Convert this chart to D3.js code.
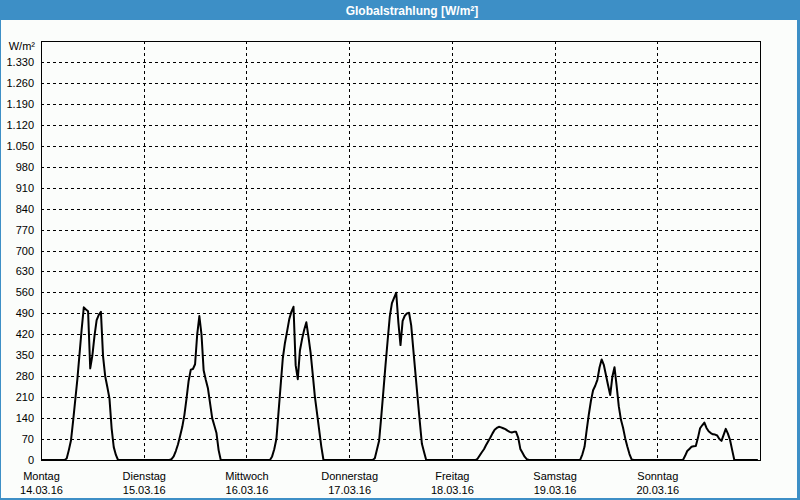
<!DOCTYPE html>
<html>
<head>
<meta charset="utf-8">
<script src="https://cdn.jsdelivr.net/npm/d3@7/dist/d3.min.js"></script>
<style>
  html, body { margin: 0; padding: 0; background: #fff; }
  svg { display: block; }
  text { font-family: "Liberation Sans", Arial, sans-serif; }
</style>
</head>
<body>
<svg id="chart" width="800" height="500"></svg>
<script>
// ---------------- data ----------------
const title = "Globalstrahlung [W/m²]";
const unitLabel = "W/m²";
const dayNames = ["Montag", "Dienstag", "Mittwoch", "Donnerstag", "Freitag", "Samstag", "Sonntag"];
const dayDates = ["14.03.16", "15.03.16", "16.03.16", "17.03.16", "18.03.16", "19.03.16", "20.03.16"];
const dayStarts = ["2016-03-14", "2016-03-15", "2016-03-16", "2016-03-17", "2016-03-18", "2016-03-19", "2016-03-20"];
const rangeEnd = "2016-03-21";
const seriesEnd = "2016-03-20T23:30";
// half-hourly values from 05:30 to 18:30 each day (night = 0)
const firstSample = "05:30";
const mon = [0, 5, 33, 65, 130, 200, 270, 354, 437, 510, 503, 497, 306, 349, 415, 467, 485, 495, 346, 280, 244, 205, 106, 43, 17, 0, 0];
const tue = [0, 0, 3, 12, 30, 52, 80, 110, 150, 205, 265, 302, 304, 320, 420, 481, 420, 300, 268, 240, 190, 140, 115, 90, 33, 0, 0];
const wed = [0, 12, 36, 70, 160, 250, 340, 391, 430, 470, 495, 512, 317, 270, 366, 404, 435, 460, 411, 358, 285, 211, 156, 100, 45, 0, 0];
const thu = [0, 6, 35, 64, 144, 230, 318, 400, 480, 524, 542, 559, 460, 384, 465, 482, 490, 492, 450, 368, 288, 208, 129, 54, 27, 0, 0];
const fri = [0, 4, 15, 26, 36, 50, 63, 75, 89, 101, 107, 111, 109, 106, 103, 98, 94, 92, 94, 94, 75, 37, 24, 11, 3, 0, 0];
const sat = [0, 1, 19, 44, 100, 152, 198, 233, 248, 268, 309, 336, 318, 284, 250, 217, 278, 310, 248, 180, 135, 108, 73, 45, 20, 2, 0];
const sun = [0, 0, 14, 30, 37, 44, 46, 47, 74, 106, 116, 125, 107, 96, 90, 86, 85, 82, 70, 64, 84, 104, 88, 67, 33, 0, 0];
const dayValues = [mon, tue, wed, thu, fri, sat, sun];
const yTicks = [0, 70, 140, 210, 280, 350, 420, 490, 560, 630, 700, 770, 840, 910, 980, 1050, 1120, 1190, 1260, 1330];
const yMax = 1400;

// ---------------- build series ----------------
const parseDay = d3.timeParse("%Y-%m-%d");
const parseDT = d3.timeParse("%Y-%m-%dT%H:%M");
const series = [];
dayStarts.forEach((ds, i) => {
  const day = parseDay(ds);
  series.push({ t: day, v: 0 });
  const start = parseDT(ds + "T" + firstSample);
  dayValues[i].forEach((v, j) => {
    series.push({ t: d3.timeMinute.offset(start, j * 30), v: v });
  });
});
series.push({ t: parseDT(seriesEnd), v: 0 });

// ---------------- layout ----------------
const W = 800, H = 500;
const L = 41, R = 760, T = 41, B = 460;
const svg = d3.select("#chart");

// background & frame
svg.append("rect").attr("x", 0).attr("y", 0).attr("width", W).attr("height", H).attr("fill", "#fbfdfb");
svg.append("rect").attr("x", 0).attr("y", 0).attr("width", W).attr("height", 20).attr("fill", "#3d8fc6");
svg.append("rect").attr("x", 0.5).attr("y", 0.5).attr("width", W - 2).attr("height", H - 2)
  .attr("fill", "none").attr("stroke", "#3d8fc6").attr("stroke-width", 1);
svg.append("line").attr("x1", W - 1.5).attr("x2", W - 1.5).attr("y1", 0).attr("y2", H).attr("stroke", "#3d8fc6").attr("stroke-width", 3);
svg.append("line").attr("x1", 0).attr("x2", W).attr("y1", H - 1).attr("y2", H - 1).attr("stroke", "#3d8fc6").attr("stroke-width", 2);

svg.append("text").attr("x", 412).attr("y", 15).attr("text-anchor", "middle")
  .attr("fill", "#fff").attr("font-weight", "bold").attr("font-size", "12px").text(title);

const x = d3.scaleTime().domain([parseDay(dayStarts[0]), parseDay(rangeEnd)]).range([L, R]);
const y = d3.scaleLinear().domain([0, yMax]).range([B, T]);

const fmt = d3.formatLocale({ decimal: ",", thousands: ".", grouping: [3], currency: ["", "€"] }).format(",d");

// horizontal grid
const hGrid = svg.append("g").attr("transform", `translate(${L},0)`)
  .call(d3.axisRight(y).tickValues(yTicks.filter(d => d > 0)).tickSize(R - L).tickFormat(""));
hGrid.select(".domain").remove();
hGrid.selectAll("line").attr("stroke", "#000").attr("stroke-dasharray", "3,3").attr("shape-rendering", "crispEdges");

// vertical grid
const vGrid = svg.append("g").attr("transform", `translate(0,${T})`)
  .call(d3.axisBottom(x).tickValues(dayStarts.slice(1).map(parseDay)).tickSize(B - T).tickFormat(""));
vGrid.select(".domain").remove();
vGrid.selectAll("line").attr("stroke", "#000").attr("stroke-dasharray", "3,3").attr("shape-rendering", "crispEdges");

// frame of plot
svg.append("rect").attr("x", L).attr("y", T).attr("width", R - L).attr("height", B - T)
  .attr("fill", "none").attr("stroke", "#000").attr("stroke-width", 1).attr("shape-rendering", "crispEdges");

// y labels
const yAx = svg.append("g").attr("transform", `translate(${L},0)`)
  .call(d3.axisLeft(y).tickValues(yTicks).tickSize(0).tickPadding(7).tickFormat(fmt));
yAx.select(".domain").remove();
yAx.selectAll("text").attr("font-size", "11px").attr("fill", "#000").attr("font-family", "Liberation Sans, Arial, sans-serif");

svg.append("text").attr("x", L - 6).attr("y", y(yMax) + 9).attr("text-anchor", "end")
  .attr("font-size", "11px").attr("fill", "#000").text(unitLabel);

// x labels
const xAx = svg.append("g").attr("transform", `translate(0,${B})`)
  .call(d3.axisBottom(x).tickValues(dayStarts.map(parseDay)).tickSize(0).tickFormat(""));
xAx.select(".domain").remove();
xAx.selectAll(".tick").each(function(d, i) {
  const g = d3.select(this);
  g.select("text").remove();
  g.append("text").attr("y", 20).attr("text-anchor", "middle").attr("font-size", "11px").attr("fill", "#000").text(dayNames[i]);
  g.append("text").attr("y", 34).attr("text-anchor", "middle").attr("font-size", "11px").attr("fill", "#000").text(dayDates[i]);
});

// line
const line = d3.line().x(d => x(d.t)).y(d => y(d.v));
svg.append("path").datum(series).attr("d", line)
  .attr("fill", "none").attr("stroke", "#000").attr("stroke-width", 2).attr("stroke-linejoin", "round");
</script>
</body>
</html>
